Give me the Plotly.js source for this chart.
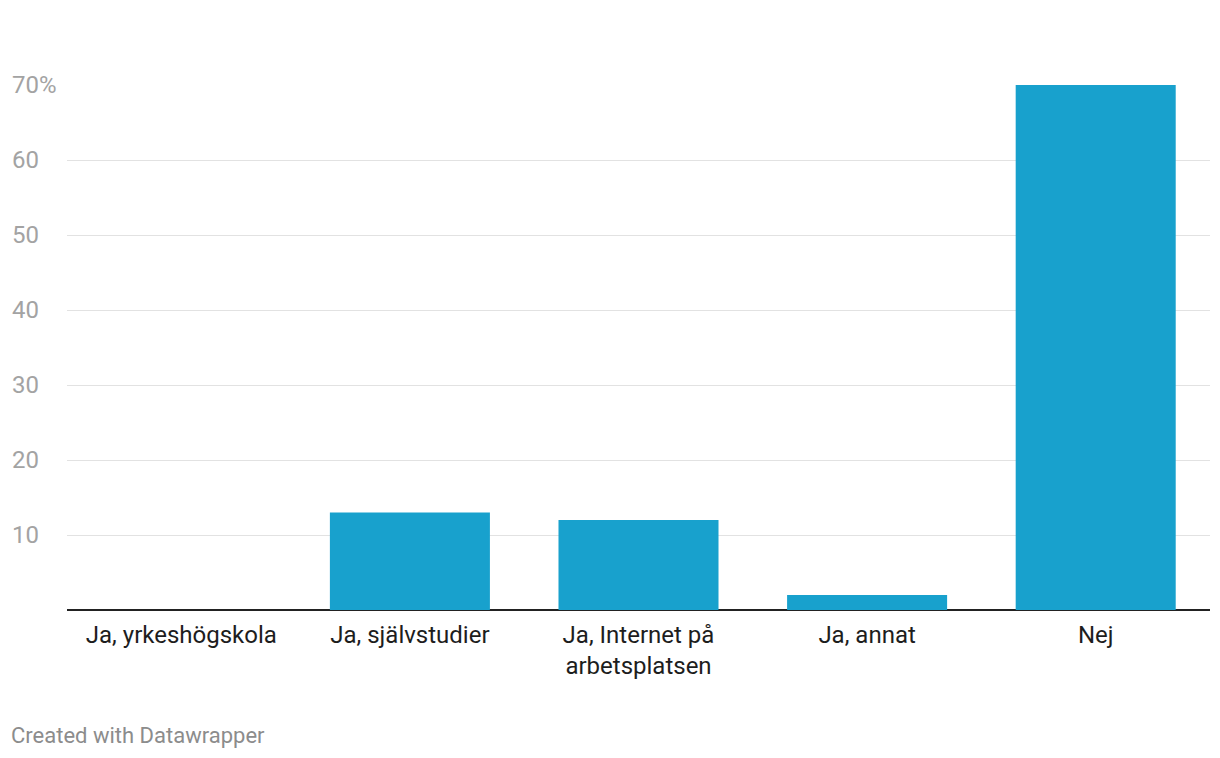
<!DOCTYPE html>
<html>
<head>
<meta charset="utf-8">
<script src="https://cdn.plot.ly/plotly-3.0.1.min.js"></script>
<style>
html,body{margin:0;padding:0;background:#fff;}
#chart{width:1220px;height:758px;}
</style>
</head>
<body>
<div id="chart"></div>
<script>
const categories = ["Ja, yrkeshögskola", "Ja, självstudier", "Ja, Internet på<br>arbetsplatsen", "Ja, annat", "Nej"];
const values = [0, 13, 12, 2, 70];
const tickValues = [10, 20, 30, 40, 50, 60, 70];
const tickLabels = ["10", "20", "30", "40", "50", "60", "70%"];

const FONT = "Roboto, 'Noto Sans', sans-serif";

const trace = {
  type: "bar",
  x: categories,
  y: values,
  marker: {color: "#18a1cd"},
  hoverinfo: "none"
};

const annotations = tickValues.map((v, i) => ({
  xref: "paper", yref: "y",
  x: 0, y: v,
  xshift: -57,
  xanchor: "left", yanchor: "middle",
  text: tickLabels[i],
  showarrow: false,
  font: {family: FONT, size: 24, color: "#a3a3a3"}
}));
annotations.push({
  xref: "paper", yref: "paper",
  x: 0, y: 0,
  xshift: -58, yshift: -125,
  xanchor: "left", yanchor: "middle",
  text: "Created with Datawrapper",
  showarrow: false,
  font: {family: FONT, size: 22, color: "#8c8c8c"}
});

const layout = {
  width: 1220, height: 758,
  margin: {l: 67, r: 10, t: 85, b: 148},
  paper_bgcolor: "#fff",
  plot_bgcolor: "#fff",
  bargap: 0.3,
  showlegend: false,
  font: {family: FONT},
  xaxis: {
    type: "category",
    showgrid: false,
    zeroline: false,
    showline: false,
    ticks: "",
    ticklabelstandoff: 8,
    tickfont: {family: FONT, size: 24, color: "#1d1d1d"},
    fixedrange: true
  },
  yaxis: {
    range: [0, 70],
    tickvals: tickValues,
    showticklabels: false,
    showgrid: true,
    gridcolor: "#e2e2e2",
    gridwidth: 1,
    zeroline: true,
    zerolinecolor: "#222222",
    zerolinewidth: 2,
    showline: false,
    fixedrange: true
  },
  annotations: annotations
};

Plotly.newPlot("chart", [trace], layout, {displayModeBar: false, staticPlot: true});
</script>
</body>
</html>
